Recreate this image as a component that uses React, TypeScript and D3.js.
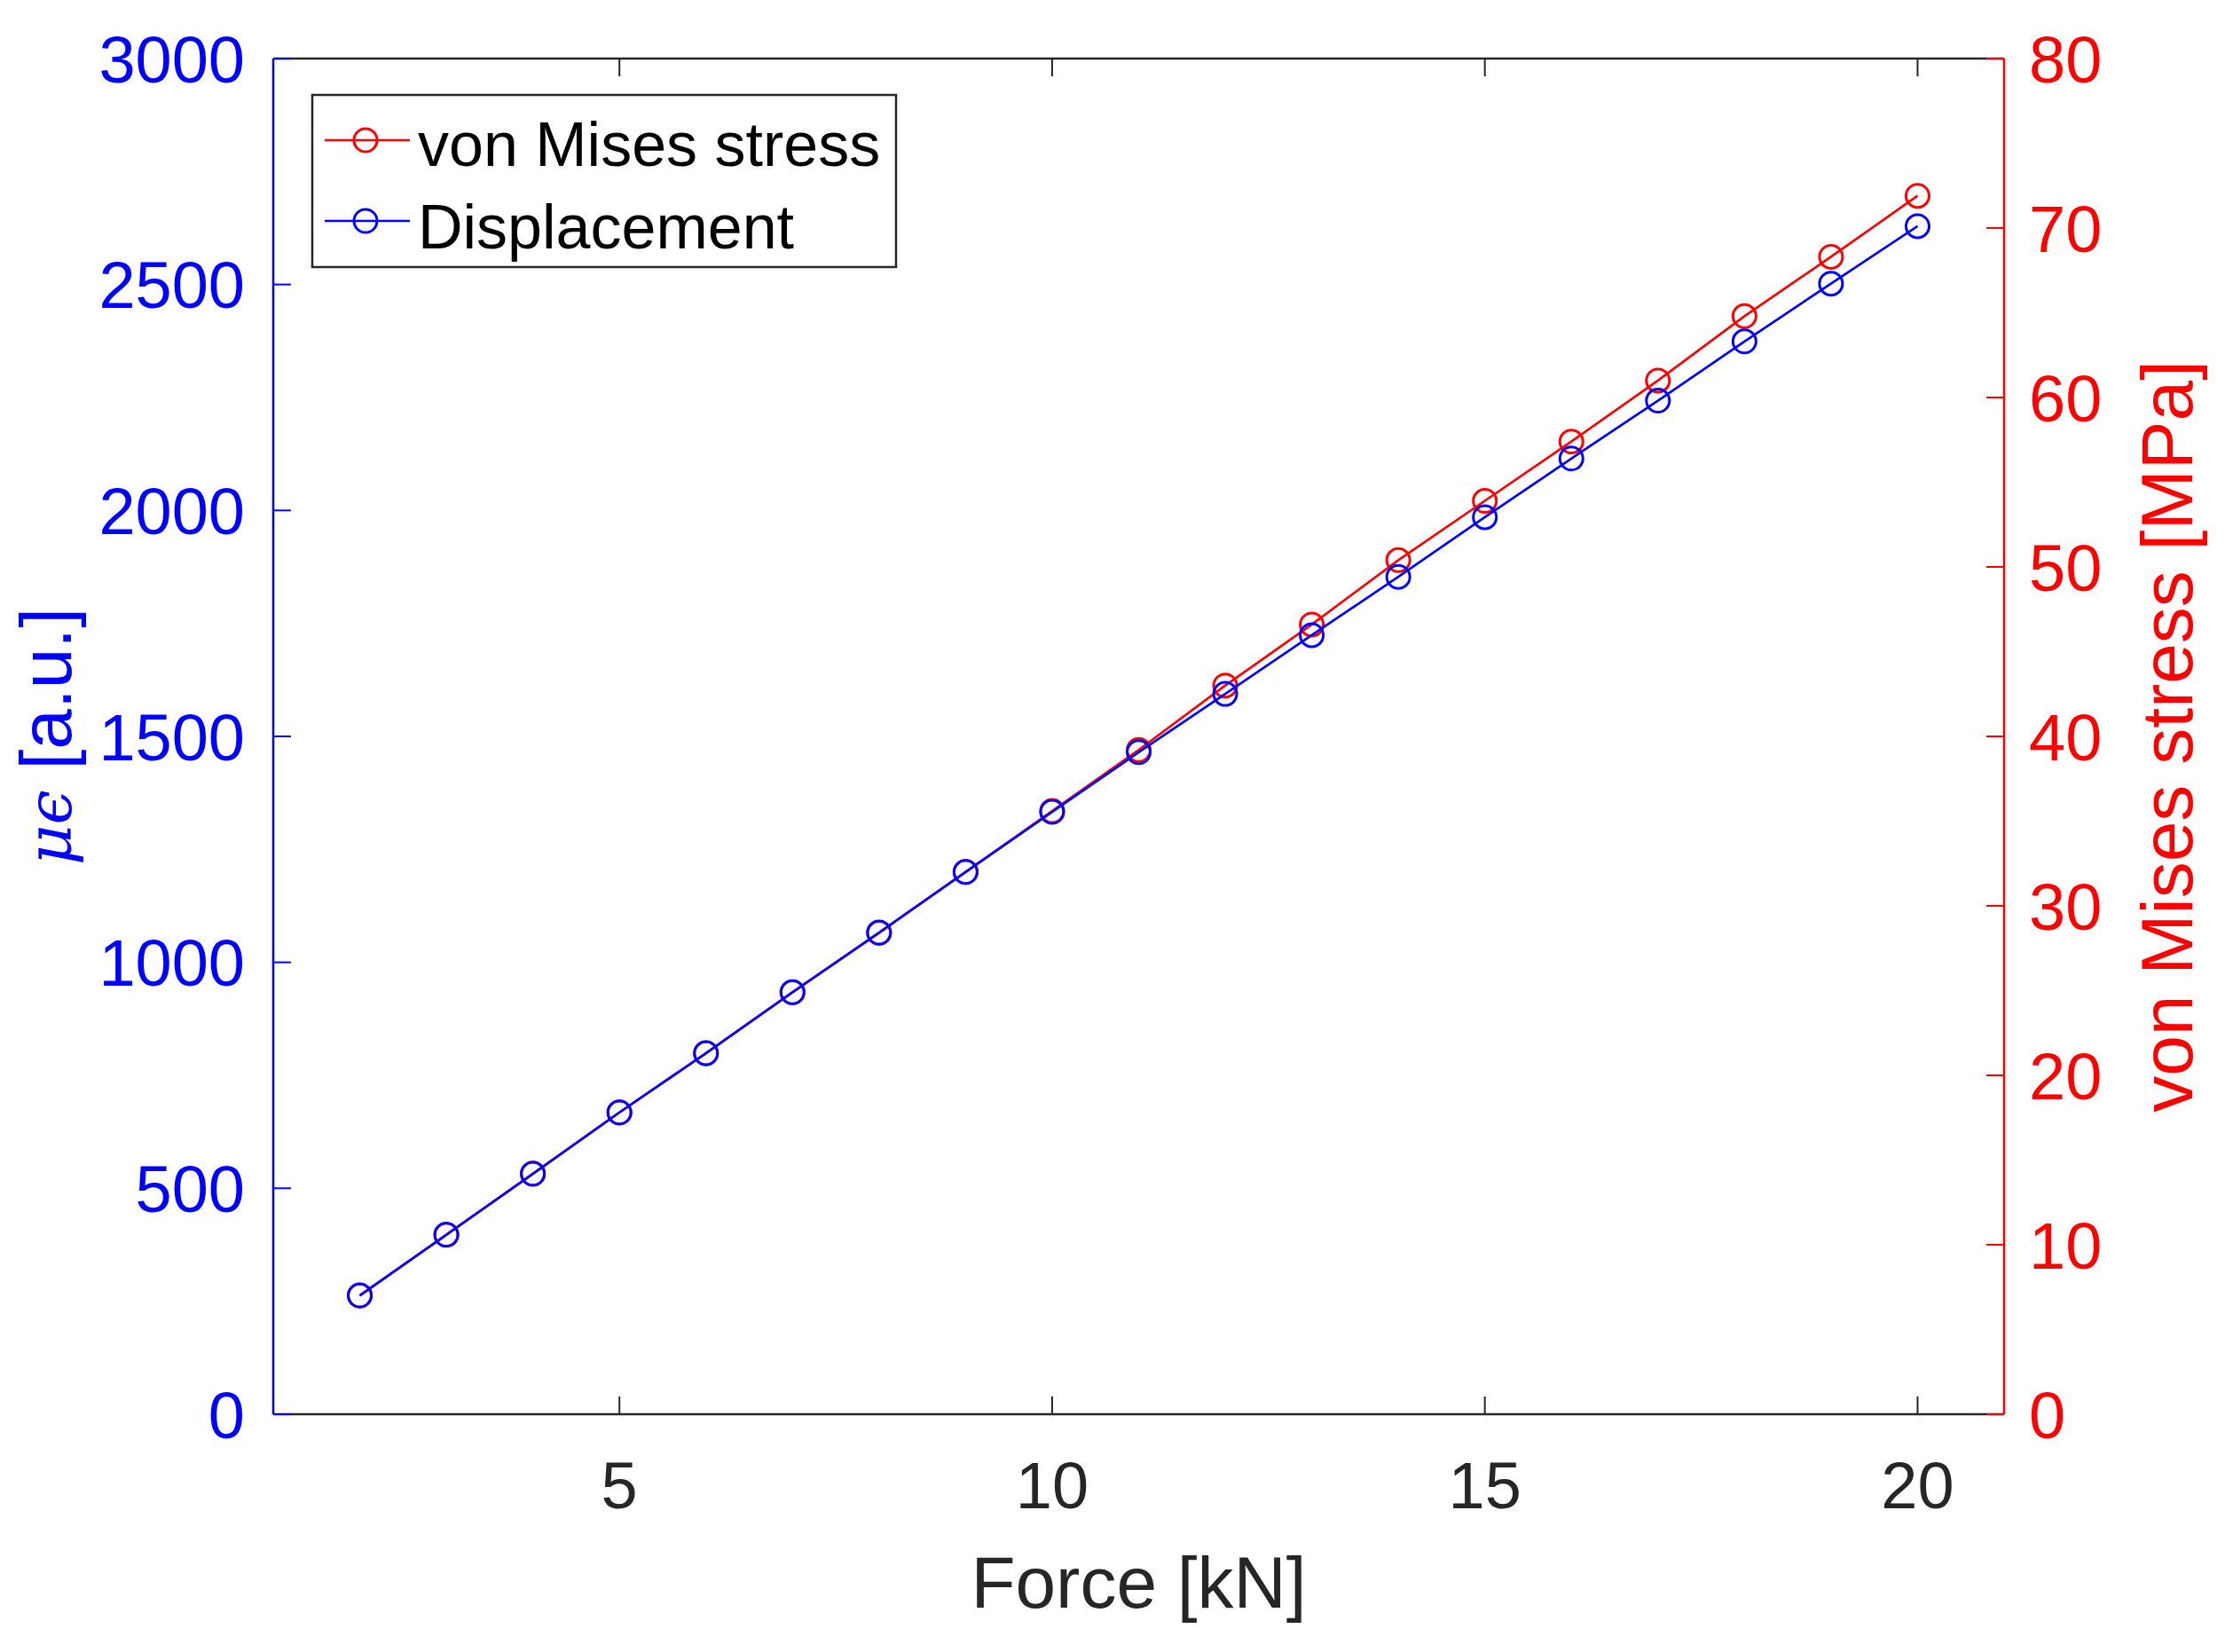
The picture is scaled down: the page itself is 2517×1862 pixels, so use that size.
import React, { useEffect } from "react";
import * as d3 from "d3";

const forceKN = [2, 3, 4, 5, 6, 7, 8, 9, 10, 11, 12, 13, 14, 15, 16, 17, 18, 19, 20];
const strainMicro = [263, 397, 532, 668, 799, 934, 1066, 1200, 1333, 1465, 1594, 1724, 1853, 1985, 2115, 2243, 2374, 2502, 2629];
const vonMisesMPa = [7.0, 10.6, 14.2, 17.8, 21.3, 24.9, 28.4, 32.0, 35.6, 39.2, 43.0, 46.6, 50.4, 53.9, 57.4, 61.0, 64.8, 68.3, 71.9];

const xTicks = [5, 10, 15, 20];
const yLeftTicks = [0, 500, 1000, 1500, 2000, 2500, 3000];
const yRightTicks = [0, 10, 20, 30, 40, 50, 60, 70, 80];

const legendLabels = ["von Mises stress", "Displacement"];
const xLabel = "Force [kN]";
const yRightLabel = "von Mises stress [MPa]";

const W = 2517;
const H = 1862;
const M = { left: 308, right: 2259, top: 66, bottom: 1594 };
const BLUE = "#0000ff";
const RED = "#ff0000";
const AX = "#262626";
const FONT = "'Liberation Sans', Arial, Helvetica, sans-serif";
const TICK_FS = 74;
const LABEL_FS = 82;
const LEG_FS = 70;
const TL = 20;
const R = 13;
const MS = 3;

export default function App() {
  useEffect(() => {
    document.body.style.margin = "0";
    document.body.style.background = "#fff";
  }, []);

  const x = d3.scaleLinear().domain([1, 21]).range([M.left, M.right]);
  const yL = d3.scaleLinear().domain([0, 3000]).range([M.bottom, M.top]);
  const yR = d3.scaleLinear().domain([0, 80]).range([M.bottom, M.top]);

  const blueLine = d3
    .line<number>()
    .x((_, i) => x(forceKN[i]))
    .y((d) => yL(d));
  const redLine = d3
    .line<number>()
    .x((_, i) => x(forceKN[i]))
    .y((d) => yR(d));

  const cy = (M.top + M.bottom) / 2;
  const cx = (M.left + M.right) / 2;

  return (
    <svg width={W} height={H} viewBox={`0 0 ${W} ${H}`} style={{ display: "block", background: "#fff" }}>
      <rect x={0} y={0} width={W} height={H} fill="#fff" />

      {/* data: red first, blue on top */}
      <path d={redLine(vonMisesMPa) || ""} fill="none" stroke={RED} strokeWidth={2.7} />
      {vonMisesMPa.map((v, i) => (
        <circle key={"r" + i} cx={x(forceKN[i])} cy={yR(v)} r={R} fill="none" stroke={RED} strokeWidth={MS} />
      ))}
      <path d={blueLine(strainMicro) || ""} fill="none" stroke={BLUE} strokeWidth={2.7} />
      {strainMicro.map((v, i) => (
        <circle key={"b" + i} cx={x(forceKN[i])} cy={yL(v)} r={R} fill="none" stroke={BLUE} strokeWidth={MS} />
      ))}

      {/* box: top and bottom */}
      <line x1={M.left} x2={M.right} y1={M.top} y2={M.top} stroke={AX} strokeWidth={2.5} />
      <line x1={M.left} x2={M.right} y1={M.bottom} y2={M.bottom} stroke={AX} strokeWidth={2.5} />
      {/* x ticks */}
      {xTicks.map((t) => (
        <g key={"xt" + t}>
          <line x1={x(t)} x2={x(t)} y1={M.bottom} y2={M.bottom - TL} stroke={AX} strokeWidth={2} />
          <line x1={x(t)} x2={x(t)} y1={M.top} y2={M.top + TL} stroke={AX} strokeWidth={2} />
          <text x={x(t)} y={1700} textAnchor="middle" fontFamily={FONT} fontSize={TICK_FS} fill={AX}>
            {t}
          </text>
        </g>
      ))}

      {/* left axis */}
      <line x1={M.left} x2={M.left} y1={M.top} y2={M.bottom} stroke={BLUE} strokeWidth={2.5} />
      {yLeftTicks.map((t) => (
        <g key={"yl" + t}>
          <line x1={M.left} x2={M.left + TL} y1={yL(t)} y2={yL(t)} stroke={BLUE} strokeWidth={2} />
          <text x={276} y={yL(t) + 26.5} textAnchor="end" fontFamily={FONT} fontSize={TICK_FS} fill={BLUE}>
            {t}
          </text>
        </g>
      ))}

      {/* right axis */}
      <line x1={M.right} x2={M.right} y1={M.top} y2={M.bottom} stroke={RED} strokeWidth={2.5} />
      {yRightTicks.map((t) => (
        <g key={"yr" + t}>
          <line x1={M.right} x2={M.right - TL} y1={yR(t)} y2={yR(t)} stroke={RED} strokeWidth={2} />
          <text x={2287} y={yR(t) + 26.5} textAnchor="start" fontFamily={FONT} fontSize={TICK_FS} fill={RED}>
            {t}
          </text>
        </g>
      ))}

      {/* axis labels */}
      <text x={cx} y={1812} textAnchor="middle" fontFamily={FONT} fontSize={LABEL_FS} fill={AX}>
        {xLabel}
      </text>
      <text
        transform={`translate(80, ${cy}) rotate(-90)`}
        textAnchor="middle"
        fontFamily={FONT}
        fontSize={LABEL_FS}
        fill={BLUE}
      >
        <tspan fontFamily="'DejaVu Serif', 'Liberation Serif', serif" fontStyle="italic" fontSize={70}>
          μϵ
        </tspan>
        <tspan> [a.u.]</tspan>
      </text>
      <text
        transform={`translate(2471, ${cy}) rotate(-90)`}
        textAnchor="middle"
        fontFamily={FONT}
        fontSize={LABEL_FS}
        fill={RED}
      >
        {yRightLabel}
      </text>

      {/* legend */}
      <rect x={352} y={107} width={658} height={194} fill="#fff" stroke={AX} strokeWidth={2.5} />
      {[RED, BLUE].map((c, i) => {
        const ly = [158, 249][i];
        return (
          <g key={"lg" + i}>
            <line x1={366} x2={462} y1={ly} y2={ly} stroke={c} strokeWidth={2.7} />
            <circle cx={412} cy={ly} r={R} fill="none" stroke={c} strokeWidth={MS} />
            <text x={471} y={[187, 280][i]} fontFamily={FONT} fontSize={LEG_FS} fill="#000">
              {legendLabels[i]}
            </text>
          </g>
        );
      })}
    </svg>
  );
}
